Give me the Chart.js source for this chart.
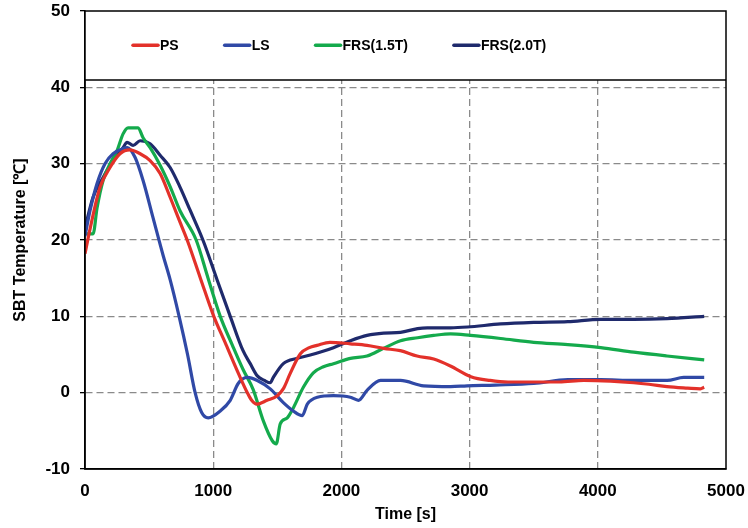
<!DOCTYPE html>
<html><head><meta charset="utf-8">
<script src="https://cdn.jsdelivr.net/npm/chart.js@4/dist/chart.umd.min.js"></script>
<style>html,body{margin:0;padding:0;background:#fff}#wrap{width:748px;height:528px}</style>
</head><body><div id="wrap"><canvas id="c" width="748" height="528"></canvas></div>
<script>
const seriesNames = ['PS', 'LS', 'FRS(1.5T)', 'FRS(2.0T)'];
const xTicks = [0, 1000, 2000, 3000, 4000, 5000];
const yTicks = [-10, 0, 10, 20, 30, 40, 50];

const psTime = [0, 40, 117, 195, 273, 350, 430, 508, 586, 664, 742, 797, 900, 1000, 1100, 1200, 1266, 1300, 1340, 1420, 1500, 1550, 1600, 1680, 1750, 1810, 1910, 2070, 2200, 2330, 2460, 2590, 2720, 2850, 3010, 3160, 3300, 3500, 3700, 3890, 4100, 4280, 4400, 4540, 4700, 4800, 4830];
const psTemp = [18.2, 21.5, 26.9, 29.5, 31.3, 31.8, 31.3, 30.4, 28.7, 25.6, 22.3, 20.0, 15.0, 10.2, 6.3, 2.4, 0.0, -1.0, -1.5, -1.0, -0.4, 0.6, 2.5, 5.1, 5.9, 6.2, 6.6, 6.4, 6.2, 5.8, 5.5, 4.8, 4.4, 3.5, 2.1, 1.6, 1.4, 1.4, 1.4, 1.6, 1.5, 1.3, 1.1, 0.8, 0.6, 0.5, 0.7];

const lsTime = [0, 40, 94, 156, 219, 297, 330, 391, 453, 531, 609, 664, 734, 800, 859, 910, 961, 1055, 1133, 1195, 1266, 1344, 1445, 1547, 1625, 1695, 1734, 1813, 1938, 2070, 2133, 2200, 2305, 2461, 2641, 2852, 2980, 3200, 3500, 3766, 4023, 4280, 4540, 4670, 4830];
const lsTemp = [20.5, 23.9, 27.4, 30.0, 31.3, 32.0, 32.1, 30.8, 27.8, 22.9, 18.0, 14.8, 10.0, 5.0, 0.0, -2.6, -3.3, -2.4, -1.0, 1.2, 2.0, 1.6, 0.5, -1.3, -2.4, -3.0, -1.5, -0.6, -0.4, -0.6, -1.0, 0.3, 1.6, 1.6, 0.9, 0.8, 0.9, 1.0, 1.2, 1.7, 1.7, 1.6, 1.6, 2.0, 2.0];

const frs15Time = [0, 20, 63, 94, 141, 195, 250, 297, 336, 414, 453, 508, 586, 664, 742, 867, 960, 1055, 1150, 1234, 1312, 1391, 1461, 1492, 1523, 1578, 1625, 1703, 1781, 1860, 1938, 2070, 2200, 2328, 2461, 2594, 2720, 2852, 3008, 3242, 3500, 3766, 4023, 4280, 4540, 4830];
const frs15Temp = [21.0, 20.8, 20.8, 24.2, 27.8, 30.0, 31.7, 33.9, 34.7, 34.7, 33.4, 32.1, 29.8, 27.0, 23.8, 20.0, 15.0, 10.0, 6.2, 3.0, 0.4, -3.7, -6.3, -6.7, -4.1, -3.3, -2.0, 0.7, 2.6, 3.4, 3.8, 4.5, 4.8, 5.8, 6.8, 7.2, 7.5, 7.7, 7.5, 7.1, 6.6, 6.3, 5.9, 5.3, 4.8, 4.3];

const frs20Time = [0, 63, 141, 219, 297, 328, 375, 430, 508, 586, 664, 742, 820, 922, 1030, 1133, 1230, 1289, 1344, 1400, 1445, 1469, 1547, 1656, 1750, 1850, 1938, 2070, 2200, 2330, 2461, 2594, 2670, 2852, 2984, 3242, 3500, 3766, 4023, 4280, 4540, 4830];
const frs20Temp = [21.6, 25.6, 28.2, 30.4, 32.1, 32.8, 32.4, 33.0, 32.6, 31.1, 29.5, 26.9, 23.9, 19.9, 14.8, 10.0, 5.6, 3.8, 2.2, 1.6, 1.3, 2.0, 3.8, 4.5, 4.9, 5.4, 5.9, 6.8, 7.5, 7.8, 7.9, 8.4, 8.5, 8.5, 8.6, 9.0, 9.2, 9.3, 9.6, 9.6, 9.7, 10.0];

const colors = ['#E3312A', '#3049A6', '#14AA4C', '#1F2A6C'];
const times = [psTime, lsTime, frs15Time, frs20Time];
const temps = [psTemp, lsTemp, frs15Temp, frs20Temp];

const FONT = "'Liberation Sans', Arial, sans-serif";

const datasets = seriesNames.map((name, i) => ({
  label: name,
  data: times[i].map((t, k) => ({ x: t, y: temps[i][k] })),
  borderColor: colors[i],
  backgroundColor: colors[i],
  borderWidth: 3.2,
  pointRadius: 0,
  cubicInterpolationMode: 'monotone',
  fill: false
}));

const legendOpts = { boxBottomValue: 40.95, rowValue: 45.5, startOffset: 48, lineLen: 25, textGap: 2, itemGap: 46 };

const framePlugin = {
  id: 'frame',
  beforeDatasetsDraw(chart) {
    const { ctx, chartArea: a, scales: { y } } = chart;
    const sy = y.getPixelForValue(legendOpts.boxBottomValue);
    ctx.save();
    ctx.fillStyle = '#fff';
    ctx.fillRect(a.left, a.top, a.right - a.left, sy - a.top);
    ctx.restore();
  },
  afterDraw(chart) {
    const { ctx, chartArea: a, scales: { y } } = chart;
    const sy = y.getPixelForValue(legendOpts.boxBottomValue);
    ctx.save();
    ctx.strokeStyle = '#000';
    ctx.lineWidth = 1.5;
    ctx.strokeRect(a.left, a.top, a.right - a.left, a.bottom - a.top);
    ctx.beginPath();
    ctx.moveTo(a.left, sy);
    ctx.lineTo(a.right, sy);
    ctx.stroke();
    // legend
    const ly = y.getPixelForValue(legendOpts.rowValue);
    ctx.font = 'bold 14px ' + FONT;
    ctx.textBaseline = 'middle';
    ctx.textAlign = 'left';
    let x = a.left + legendOpts.startOffset;
    chart.data.datasets.forEach(ds => {
      ctx.strokeStyle = ds.borderColor;
      ctx.lineWidth = 3.5;
      ctx.lineCap = 'round';
      ctx.beginPath();
      ctx.moveTo(x, ly);
      ctx.lineTo(x + legendOpts.lineLen, ly);
      ctx.stroke();
      x += legendOpts.lineLen + legendOpts.textGap;
      ctx.fillStyle = '#000';
      ctx.fillText(ds.label, x, ly + 1);
      x += ctx.measureText(ds.label).width + legendOpts.itemGap;
    });
    ctx.restore();
  }
};

new Chart(document.getElementById('c'), {
  type: 'line',
  data: { datasets },
  plugins: [framePlugin],
  options: {
    responsive: false,
    devicePixelRatio: 1,
    animation: false,
    layout: { padding: { top: 11, right: 22, left: 0, bottom: 0 } },
    plugins: { legend: { display: false }, tooltip: { enabled: false } },
    scales: {
      x: {
        type: 'linear',
        min: 0, max: 5000,
        afterBuildTicks: s => { s.ticks = xTicks.map(v => ({ value: v })); },
        afterFit: s => { s.height = 59; s.paddingLeft = 0; s.paddingRight = 0; },
        grid: {
          color: ctx => (ctx.tick && (ctx.tick.value === 0 || ctx.tick.value === 5000)) ? 'rgba(0,0,0,0)' : '#8a8a8a',
          lineWidth: 1.3,
          drawTicks: false
        },
        border: { display: true, color: '#000', width: 1.5, dash: [7, 4] },
        ticks: {
          color: '#000',
          font: { family: FONT, size: 17, weight: 'bold' },
          padding: 12,
          maxRotation: 0,
          callback: v => String(v)
        },
        title: {
          display: true,
          text: 'Time [s]',
          color: '#000',
          font: { family: FONT, size: 16, weight: 'bold' },
          padding: { top: 0, bottom: 4 }
        }
      },
      y: {
        min: -10, max: 50,
        afterBuildTicks: s => { s.ticks = yTicks.map(v => ({ value: v })); },
        afterFit: s => { s.width = 85; s.paddingTop = 0; s.paddingBottom = 0; },
        grid: {
          color: ctx => (ctx.tick && (ctx.tick.value === -10 || ctx.tick.value === 50)) ? 'rgba(0,0,0,0)' : '#8a8a8a',
          lineWidth: 1.3,
          drawTicks: true,
          tickLength: 5,
          tickColor: '#000',
          tickWidth: 1.3,
          tickBorderDash: []
        },
        border: { display: true, color: '#000', width: 1.5, dash: [7, 4] },
        ticks: {
          color: '#000',
          font: { family: FONT, size: 17, weight: 'bold' },
          padding: 10,
          callback: v => String(v)
        },
        title: {
          display: true,
          text: 'SBT Temperature [℃]',
          color: '#000',
          font: { family: FONT, size: 16, weight: 'bold' },
          padding: { top: 11, bottom: 0 }
        }
      }
    }
  }
});
</script>
</body></html>
